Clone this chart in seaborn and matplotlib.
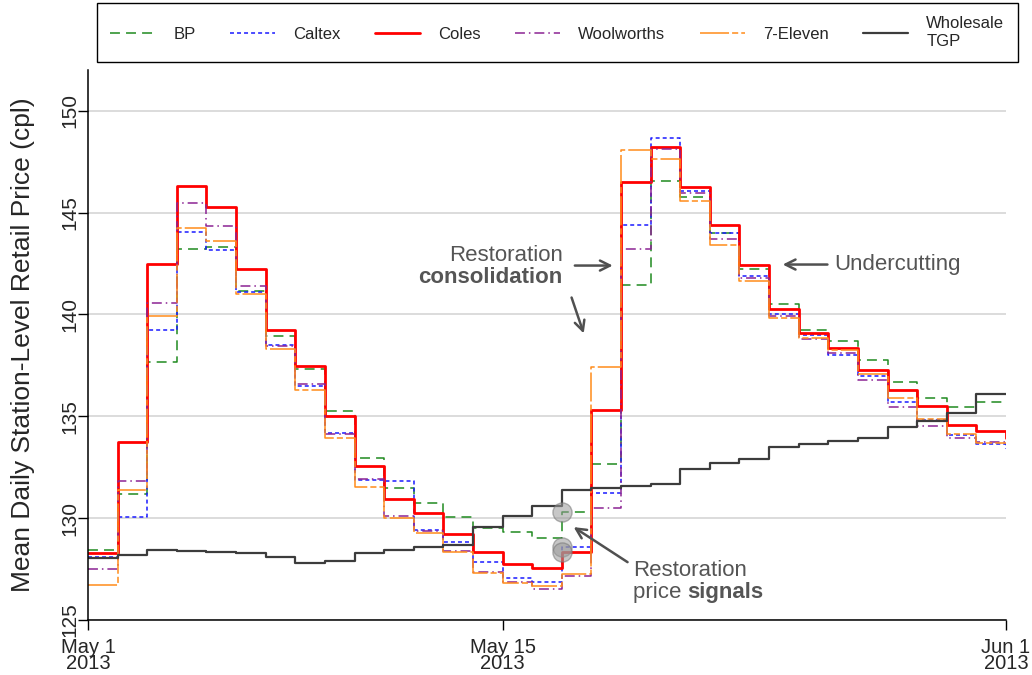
import numpy as np
import pandas as pd
import matplotlib
matplotlib.use("Agg")
import matplotlib.pyplot as plt
import matplotlib.dates as mdates
import seaborn as sns

# ---------------- data (May 1 .. Jun 1, 2013) ----------------
dates = pd.date_range("2013-05-01", "2013-06-01", freq="D")

bp = [128.43, 131.18, 137.66, 143.20, 143.30, 141.14, 138.94, 137.32, 135.26, 132.94,
      131.49, 130.72, 130.07, 129.52, 129.30, 129.05, 130.31, 132.65, 141.44, 146.57,
      145.78, 144.00, 142.25, 140.49, 139.26, 138.71, 137.78, 136.67, 135.90, 135.46,
      135.69, 135.69]
caltex = [128.07, 130.07, 139.25, 144.07, 143.14, 141.10, 138.48, 136.50, 134.18, 131.86,
          131.81, 129.41, 128.84, 127.84, 127.07, 126.86, 128.60, 131.24, 144.41, 148.66,
          146.04, 143.99, 141.90, 140.03, 138.97, 138.02, 136.96, 135.70, 134.80, 134.07,
          133.66, 133.38]
coles = [128.28, 133.73, 142.49, 146.31, 145.26, 142.24, 139.25, 137.45, 135.03, 132.56,
         130.96, 130.26, 129.22, 128.33, 127.75, 127.53, 128.32, 135.29, 146.49, 148.20,
         146.24, 144.38, 142.44, 140.28, 139.10, 138.35, 137.25, 136.27, 135.49, 134.59,
         134.30, 133.95]
woolworths = [127.48, 131.83, 140.55, 145.49, 144.36, 141.39, 138.45, 136.57, 134.12, 131.90,
              130.10, 129.38, 128.40, 127.37, 126.88, 126.50, 127.16, 130.52, 143.22, 148.10,
              145.95, 143.69, 141.80, 139.90, 138.80, 138.10, 136.76, 135.46, 134.51, 133.95,
              133.74, 133.74]
seven_eleven = [126.70, 131.37, 139.90, 144.24, 143.60, 140.98, 138.32, 136.31, 133.94, 131.54,
                130.03, 129.28, 128.32, 127.29, 126.83, 126.68, 127.24, 137.42, 148.05, 147.65,
                145.55, 143.43, 141.62, 139.82, 138.85, 138.27, 137.09, 135.90, 134.85, 134.15,
                133.71, 133.71]
tgp = [128.02, 128.19, 128.43, 128.38, 128.32, 128.27, 128.10, 127.81, 127.89, 128.27,
       128.43, 128.56, 128.68, 129.57, 130.10, 130.59, 131.37, 131.49, 131.60, 131.70,
       132.40, 132.70, 132.90, 133.50, 133.66, 133.79, 133.95, 134.48, 134.77, 135.18,
       136.08, 136.08]

series_labels = ["BP", "Caltex", "Coles", "Woolworths", "7-Eleven", "Wholesale\nTGP"]
series_values = [bp, caltex, coles, woolworths, seven_eleven, tgp]

x_tick_dates = ["2013-05-01", "2013-05-15", "2013-06-01"]
x_tick_labels = ["May 1\n2013", "May 15\n2013", "Jun 1\n2013"]
y_ticks = [125, 130, 135, 140, 145, 150]

signal_date = "2013-05-17"
signal_values = [bp[16], caltex[16], coles[16]]

# ---------------- styling ----------------
sns.set_style("white")
plt.rcParams["font.family"] = ["Liberation Sans", "DejaVu Sans"]

line_styles = [
    dict(color="#1f8a1f", linewidth=1.1, linestyle=(0, (6.5, 4.0))),
    dict(color="#1a1aff", linewidth=1.1, linestyle=(0, (2.6, 2.0))),
    dict(color="#ff0000", linewidth=2.0, linestyle="-"),
    dict(color="#8b2393", linewidth=1.1, linestyle=(0, (6.5, 2.6, 1.0, 2.6))),
    dict(color="#ff8c1a", linewidth=1.1, linestyle=(0, (19.0, 2.0, 4.0, 2.0))),
    dict(color="#3c3c3c", linewidth=1.6, linestyle="-"),
]

fig = plt.figure(figsize=(10.32, 6.75), dpi=100)
ax = fig.add_axes([88 / 1032, 55 / 675, 918 / 1032, 550 / 675])

for lab, vals, st in zip(series_labels, series_values, line_styles):
    sns.lineplot(x=dates, y=vals, ax=ax, drawstyle="steps-post", label=lab,
                 estimator=None, **st)

# restoration price signal markers
sns.scatterplot(x=[pd.Timestamp(signal_date)] * len(signal_values), y=signal_values, ax=ax,
                s=190, color="#9a9a9a", alpha=0.55, edgecolor="#777777", linewidth=1.0,
                zorder=5, legend=False)

# axes
ax.set_xlim(dates[0], dates[-1])
ax.set_ylim(125, 152)
ax.set_xticks([mdates.date2num(pd.Timestamp(d)) for d in x_tick_dates])
ax.set_xticklabels(x_tick_labels, fontsize=14.5, linespacing=0.8)
ax.set_yticks(y_ticks)
ax.set_yticklabels([str(v) for v in y_ticks], fontsize=15, rotation=90, va="center")
ax.tick_params(axis="both", direction="out", length=7, width=1.0, color="black",
               bottom=True, left=True)
ax.tick_params(axis="y", pad=-1)
ax.tick_params(axis="x", pad=6)
for s in ["top", "right"]:
    ax.spines[s].set_visible(False)
for s in ["left", "bottom"]:
    ax.spines[s].set_color("black")
    ax.spines[s].set_linewidth(1.1)
ax.yaxis.grid(True, color="#dcdcdc", linewidth=1.4)
ax.xaxis.grid(False)
ax.set_axisbelow(True)
ax.set_xlabel("")
ax.set_ylabel("Mean Daily Station-Level Retail Price (cpl)", fontsize=19)
ax.yaxis.set_label_coords(-(88 - 35) / 918, 0.5)

# annotations
base = mdates.date2num(pd.Timestamp("2013-05-01"))
def dx(day):
    return base + day

txt_color = "#555555"
fs_ann = 16
arrow_kw = dict(arrowstyle="->", color="#505050", lw=1.8, mutation_scale=18,
                shrinkA=0, shrinkB=0)

ax.text(dx(16.03), 142.9, "Restoration", ha="right", va="center", fontsize=fs_ann, color=txt_color)
ax.text(dx(16.03), 141.8, "consolidation", ha="right", va="center", fontsize=fs_ann,
        color=txt_color, fontweight="bold")
ax.annotate("", xy=(dx(17.72), 142.40), xytext=(dx(16.44), 142.40), arrowprops=arrow_kw)
ax.annotate("", xy=(dx(16.74), 139.07), xytext=(dx(16.33), 140.83), arrowprops=arrow_kw)

ax.text(dx(25.2), 142.45, "Undercutting", ha="left", va="center", fontsize=fs_ann, color=txt_color)
ax.annotate("", xy=(dx(23.46), 142.45), xytext=(dx(24.97), 142.45), arrowprops=arrow_kw)

ax.text(dx(18.4), 127.45, "Restoration", ha="left", va="center", fontsize=fs_ann, color=txt_color)
t_price = ax.text(dx(18.4), 126.37, "price ", ha="left", va="center", fontsize=fs_ann, color=txt_color)
ax.annotate("signals", xy=(1, 0), xycoords=t_price, ha="left", va="bottom", fontsize=fs_ann,
            color=txt_color, fontweight="bold")
ax.annotate("", xy=(dx(16.40), 129.56), xytext=(dx(18.22), 127.84), arrowprops=arrow_kw)

# legend
handles, labels = ax.get_legend_handles_labels()
if ax.get_legend() is not None:
    ax.get_legend().remove()
leg = fig.legend(handles, labels, loc="upper left", bbox_to_anchor=(97 / 1032, 1 - 3 / 675),
                 ncol=6, frameon=True, fancybox=False, edgecolor="black", framealpha=1,
                 fontsize=12, handlelength=2.7, handletextpad=1.1, columnspacing=2.05,
                 borderpad=0.8, borderaxespad=0)
leg.get_frame().set_linewidth(1.0)
for t in leg.get_texts():
    t.set_multialignment("left")

fig.savefig("out.png", dpi=100)
